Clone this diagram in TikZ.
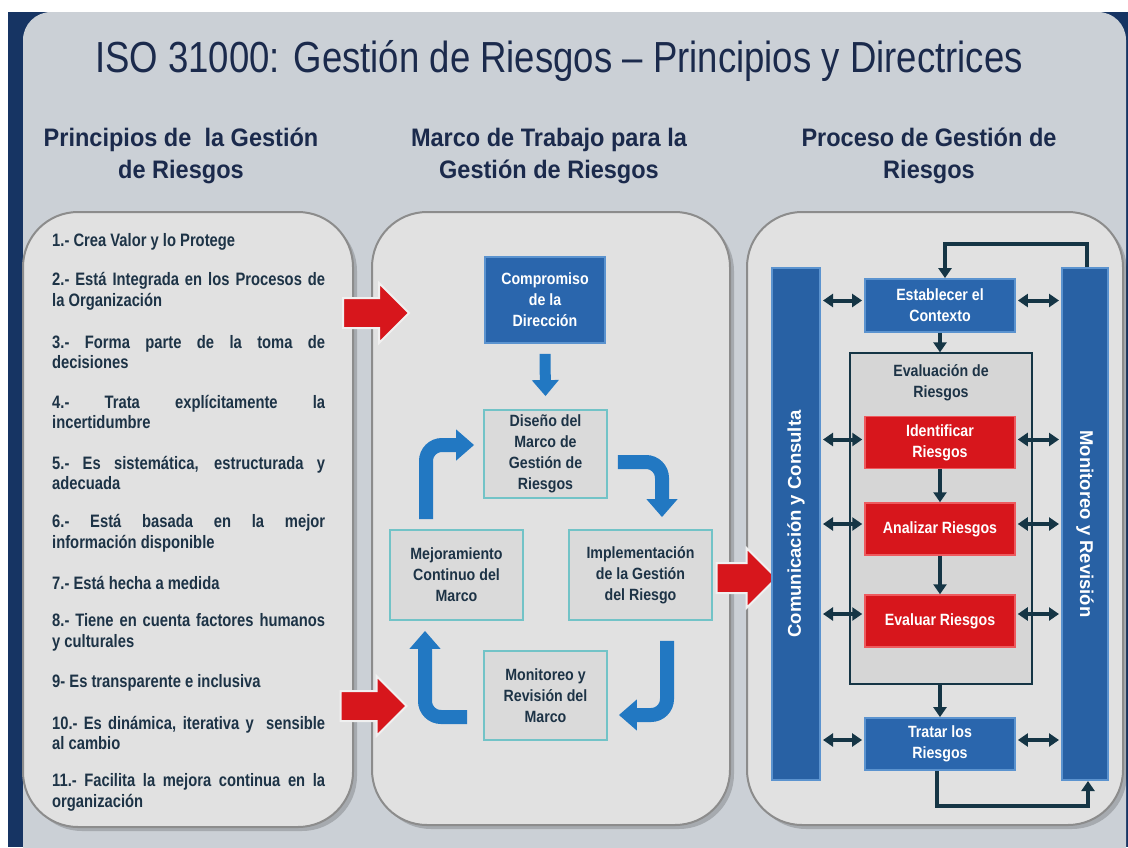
\documentclass[tikz,border=0pt]{standalone}
\usepackage{fontspec}
\setmainfont{Liberation Sans}
\newfontfamily\titlefont[FakeStretch=0.84]{Liberation Sans}
\newfontfamily\headfont[FakeStretch=0.93]{Liberation Sans}
\newfontfamily\itemfont[FakeStretch=0.82]{Liberation Sans}
\newfontfamily\boxfont[FakeStretch=0.87]{Liberation Sans}
\usetikzlibrary{arrows.meta,shapes.arrows}
\definecolor{navyedge}{HTML}{163463}
\definecolor{bgc}{HTML}{CBD0D6}
\definecolor{titlec}{HTML}{1B2A4C}
\definecolor{txtc}{HTML}{1D3346}
\definecolor{panelc}{HTML}{E1E1E1}
\definecolor{paneledge}{HTML}{8C8C8C}
\definecolor{boxblue}{HTML}{2A66AD}
\definecolor{boxblueedge}{HTML}{5B93CF}
\definecolor{redc}{HTML}{D7161C}
\definecolor{rededge}{HTML}{EE5A5E}
\definecolor{arrblue}{HTML}{2278C2}
\definecolor{mboxc}{HTML}{DADADA}
\definecolor{mboxedge}{HTML}{72C3C7}
\definecolor{darkarr}{HTML}{153545}
\definecolor{framec}{HTML}{D6D6D6}
\begin{document}
\begin{tikzpicture}[x=1pt,y=-1pt,
  panel/.style={draw=paneledge, line width=2pt, fill=panelc, rounded corners=55pt},
  pshadow/.style={fill=black, opacity=0.18, rounded corners=55pt},
  headtxt/.style={text=titlec, align=center, font=\fontsize{25.3}{32}\headfont\bfseries},
  item/.style={anchor=west, text=txtc, align=left, inner sep=0pt, font=\fontsize{18}{20.5}\itemfont\bfseries},
  mbox/.style={draw=mboxedge, line width=1.8pt, fill=mboxc, text=txtc, align=center, inner sep=0pt, font=\fontsize{16.3}{21}\boxfont\bfseries},
  bluebox/.style={draw=boxblueedge, line width=1.8pt, fill=boxblue, text=white, align=center, inner sep=0pt, font=\fontsize{16.3}{21}\boxfont\bfseries},
  redbox/.style={draw=rededge, line width=1.5pt, fill=redc, text=white, align=center, inner sep=0pt, font=\fontsize{16.3}{21}\boxfont\bfseries},
  vbar/.style={draw=boxblueedge, line width=2pt, fill=boxblue!95!black, text=white, inner sep=0pt, font=\fontsize{18.5}{22}\selectfont\bfseries},
  bendarrow/.style={draw=arrblue, line width=14pt, rounded corners=16pt, -{Triangle[width=30pt,length=18pt]}},
  downarrow/.style={draw=arrblue, line width=11pt, -{Triangle[width=26pt,length=16pt]}},
  redarrow/.style={single arrow, fill=redc, draw=white!88!gray, line width=2pt, inner xsep=0pt, inner ysep=14pt, single arrow head extend=15pt, minimum height=66pt},
  dblarrow/.style={draw=darkarr, line width=4pt, {Triangle[width=13pt,length=10pt]}-{Triangle[width=13pt,length=10pt]}, shorten <=2pt, shorten >=2pt},
  onearrow/.style={draw=darkarr, line width=3.5pt, -{Triangle[width=13pt,length=10pt]}},
  loopline/.style={draw=darkarr, line width=3.5pt, -{Triangle[width=13pt,length=10pt]}}
]
\useasboundingbox (0,0) rectangle (1128,847);
\fill[white] (0,0) rectangle (1128,847);
\fill[navyedge] (8,12) rectangle (1128,847);
\fill[bgc, rounded corners=28pt] (23,12) rectangle (1126,900);

% title and headings
\node[text=titlec, font=\fontsize{43.5}{46}\titlefont] (title) at (559,61) {ISO 31000: Gestión de Riesgos – Principios y Directrices};
\node[headtxt] (h1) at (181,156) {Principios de\ \ la Gestión\\de Riesgos};
\node[headtxt] (h2) at (549,156) {Marco de Trabajo para la\\Gestión de Riesgos};
\node[headtxt] (h3) at (929,156) {Proceso de Gestión de\\Riesgos};

% panel shadows
\fill[pshadow] (27,216) rectangle (357,831);
\fill[pshadow] (376,216) rectangle (734,829);
\fill[pshadow] (751,216) rectangle (1127,829);
% panels
\node[panel, minimum width=330pt, minimum height=615pt] (pL) at (188,519.5) {};
\node[panel, minimum width=358pt, minimum height=613pt] (pM) at (551,518.5) {};
\node[panel, minimum width=376pt, minimum height=613pt] (pR) at (935,518.5) {};

% left items
\def\W{273pt}
\node[item] (i1) at (52,242) {1.- Crea Valor y lo Protege};
\node[item] (i2) at (52,291.5) {\makebox[\W][s]{2.- Está Integrada en los Procesos de}\\la Organización};
\node[item] (i3) at (52,352) {\makebox[\W][s]{3.- Forma parte de la toma de}\\decisiones};
\node[item] (i4) at (52,412) {\makebox[\W][s]{4.- Trata explícitamente la}\\incertidumbre};
\node[item] (i5) at (52,473) {\makebox[\W][s]{5.- Es sistemática, estructurada y}\\adecuada};
\node[item] (i6) at (52,533.5) {\makebox[\W][s]{6.- Está basada en la mejor}\\información disponible};
\node[item] (i7) at (52,583) {7.- Está hecha a medida};
\node[item] (i8) at (52,632.5) {\makebox[\W][s]{8.- Tiene en cuenta factores humanos}\\y culturales};
\node[item] (i9) at (52,683) {9- Es transparente e inclusiva};
\node[item] (i10) at (52,733) {\makebox[\W][s]{10.- Es dinámica, iterativa y\ \ sensible}\\al cambio};
\node[item] (i11) at (52,792.5) {\makebox[\W][s]{11.- Facilita la mejora continua en la}\\organización};

% middle boxes
\node[bluebox, minimum width=120pt, minimum height=86pt] (com) at (545,300) {Compromiso\\de la\\Dirección};
\node[mbox, minimum width=123pt, minimum height=88pt] (dis) at (545.5,454) {Diseño del\\Marco de\\Gestión de\\Riesgos};
\node[mbox, minimum width=133pt, minimum height=90pt] (mej) at (456.5,575) {Mejoramiento\\Continuo del\\Marco};
\node[mbox, minimum width=143pt, minimum height=90pt] (imp) at (640.5,575) {Implementación\\de la Gestión\\del Riesgo};
\node[mbox, minimum width=123pt, minimum height=89pt] (mon) at (545.5,695.5) {Monitoreo y\\Revisión del\\Marco};

\draw[downarrow] ([yshift=-10pt]com.south) -- ([yshift=13pt]dis.north);
\draw[bendarrow] ([xshift=-30.5pt,yshift=10pt]mej.north) |- ([xshift=-9pt,yshift=9pt]dis.west);
\draw[bendarrow] ([xshift=10pt,yshift=-8pt]dis.east) -| ([xshift=21.5pt,yshift=12pt]imp.north);
\draw[bendarrow] ([xshift=26.5pt,yshift=-20pt]imp.south) |- ([xshift=11pt,yshift=-19.5pt]mon.east);
\draw[bendarrow] ([xshift=-16pt,yshift=-21.5pt]mon.west) -| ([xshift=-31.5pt,yshift=-10pt]mej.south);

% red arrows
\node[redarrow] (ra1) at (368.5,313) {};
\node[redarrow] (ra2) at (366,706) {};
\node[redarrow, minimum height=60pt] (ra3) at (739,578) {};

% right panel
\node[vbar, rotate=90, minimum width=512pt, minimum height=48pt] (cc) at (796,524) {Comunicación y Consulta};
\node[vbar, rotate=-90, minimum width=512pt, minimum height=46pt] (mr) at (1085,524) {Monitoreo y Revisión};

\node[draw=darkarr, line width=1.3pt, fill=framec, minimum width=182pt, minimum height=331pt] (eva) at (941,518.5) {};
\node[text=txtc, align=center, font=\fontsize{16.3}{21}\boxfont\bfseries] (evat) at (941,383) {Evaluación de\\Riesgos};

\node[bluebox, minimum width=150pt, minimum height=53pt] (est) at (940,305.5) {Establecer el\\Contexto};
\node[redbox, minimum width=150pt, minimum height=52pt] (idr) at (940,442.5) {Identificar\\Riesgos};
\node[redbox, minimum width=150pt, minimum height=52pt] (ana) at (940,529) {Analizar Riesgos};
\node[redbox, minimum width=150pt, minimum height=52pt] (evr) at (940,621) {Evaluar Riesgos};
\node[bluebox, minimum width=150pt, minimum height=52pt] (tra) at (940,744) {Tratar los\\Riesgos};

\draw[onearrow] (est.south) -- (est.south |- eva.north);
\draw[onearrow] (idr.south) -- (ana.north);
\draw[onearrow] (ana.south) -- (evr.north);
\draw[onearrow] (eva.south -| tra.north) -- (tra.north);

\foreach \b/\s in {est/5, idr/3, ana/5, evr/7, tra/4}{
  \coordinate (L\b) at ([yshift=\s pt]\b.west);
  \coordinate (R\b) at ([yshift=\s pt]\b.east);
  \draw[dblarrow] (L\b -| cc.south) -- (L\b);
  \draw[dblarrow] (R\b) -- (R\b -| mr.south);
}

\draw[loopline] ([xshift=2pt]mr.west) -- ++(0,-23) -| ([xshift=5pt]est.north);
\draw[loopline] ([xshift=-3pt]tra.south) -- ++(0,35) -| ([xshift=3pt]mr.east);
\end{tikzpicture}
\end{document}
